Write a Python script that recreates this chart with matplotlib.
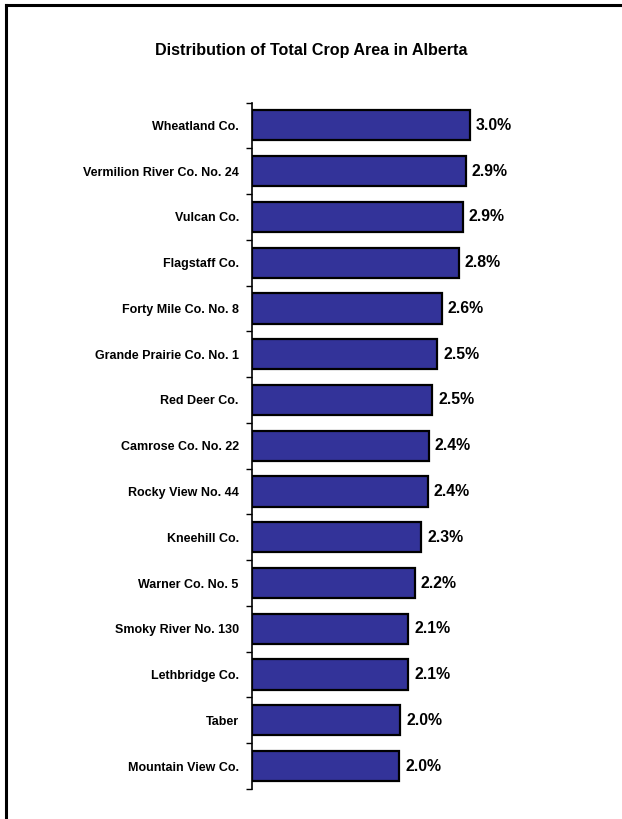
import numpy as np
import matplotlib
matplotlib.use("Agg")
import matplotlib.pyplot as plt

# municipalities, top to bottom
counties = [
    "Wheatland Co.",
    "Vermilion River Co. No. 24",
    "Vulcan Co.",
    "Flagstaff Co.",
    "Forty Mile Co. No. 8",
    "Grande Prairie Co. No. 1",
    "Red Deer Co.",
    "Camrose Co. No. 22",
    "Rocky View No. 44",
    "Kneehill Co.",
    "Warner Co. No. 5",
    "Smoky River No. 130",
    "Lethbridge Co.",
    "Taber",
    "Mountain View Co.",
]
# share of total provincial crop area (%)
share = [2.99, 2.93, 2.89, 2.83, 2.60, 2.54, 2.47, 2.42, 2.41, 2.32,
         2.23, 2.14, 2.14, 2.03, 2.02]

plt.rcParams["font.family"] = ["Liberation Sans", "DejaVu Sans"]

W, H = 622, 819
fig = plt.figure(figsize=(W / 100, H / 100), dpi=100)

# frame around the chart area (left and top edges)
fig.add_artist(plt.Line2D([5.5 / W, 5.5 / W], [0, 1 - 4.5 / H], color="black", lw=2.2))
fig.add_artist(plt.Line2D([5.5 / W, 1], [1 - 4.5 / H, 1 - 4.5 / H], color="black", lw=2.2))

fig.text(311 / W, 1 - 50 / H, "Distribution of Total Crop Area in Alberta",
         ha="center", va="center", fontsize=11.6, fontweight="bold")

ax_left, ax_top, ax_bot = 252, 102.5, 789
ax = fig.add_axes([ax_left / W, 1 - ax_bot / H, 292 / W, (ax_bot - ax_top) / H])

n = len(counties)
y = np.arange(n)
ax.barh(y, share, height=0.66, color="#333399", edgecolor="black", linewidth=1.6)

for yi, v in zip(y, share):
    ax.text(v + 0.08, yi, f"{v:.1f}%", va="center", ha="left",
            fontsize=11.4, fontweight="bold")

ax.set_xlim(0, 4.0)
ax.set_ylim(n - 0.5, -0.5)
ax.set_yticks(np.arange(n + 1) - 0.5)
ax.set_yticklabels([])
ax.set_yticks(y, minor=True)
ax.set_yticklabels(counties, minor=True, fontsize=9, fontweight="bold")
ax.tick_params(axis="y", which="major", direction="out", length=4, width=1, left=True)
ax.tick_params(axis="y", which="minor", length=0, pad=9.5)
ax.set_xticks([])
for s in ["top", "right", "bottom"]:
    ax.spines[s].set_visible(False)
ax.spines["left"].set_linewidth(1.2)

fig.savefig("out.png", dpi=100, facecolor="white")
